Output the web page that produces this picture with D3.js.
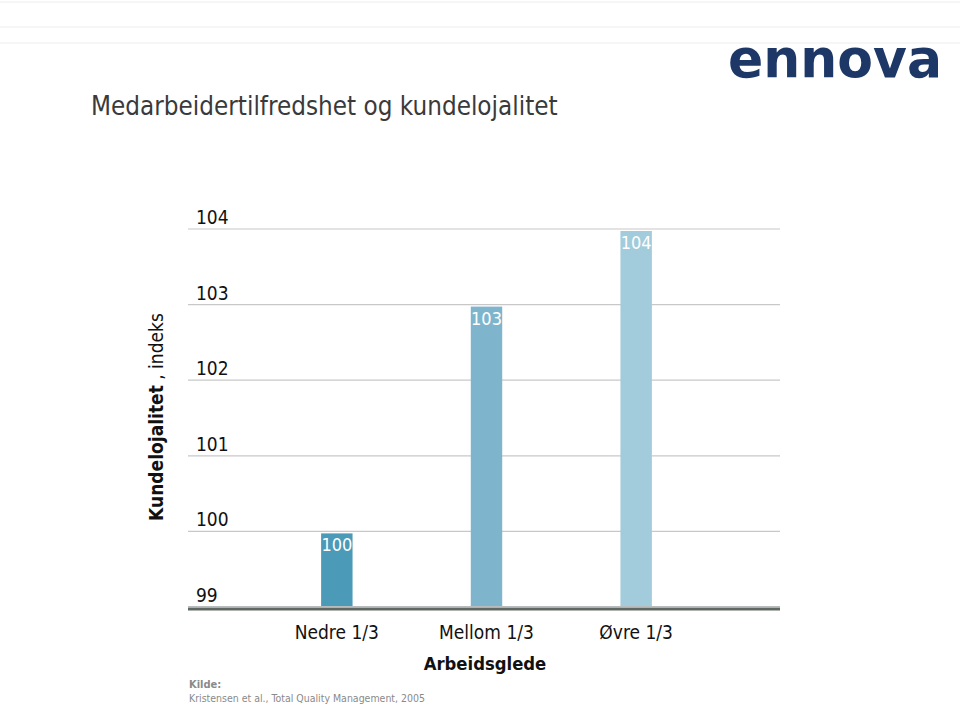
<!DOCTYPE html>
<html><head><meta charset="utf-8">
<script src="https://cdn.jsdelivr.net/npm/d3@7"></script>
<style>body{margin:0;background:#fff}svg{display:block}</style>
</head><body>
<svg id="c" width="960" height="705"></svg>
<script>
const categories = ["Nedre 1/3", "Mellom 1/3", "Øvre 1/3"];
const values = [100, 103, 104];
const barColors = ["#4a9ab8", "#7fb5cc", "#a2cbdb"];
const yTicks = [99, 100, 101, 102, 103, 104];
const title = "Medarbeidertilfredshet og kundelojalitet";
const xTitle = "Arbeidsglede";
const sourceLines = ["Kilde:", "Kristensen et al., Total Quality Management, 2005"];

const FONT = "'DejaVu Sans Condensed','DejaVu Sans',sans-serif";
const svg = d3.select("#c");

// faint background lines at top
[2, 27, 43].forEach(yy => svg.append("line").attr("x1", 0).attr("x2", 960).attr("y1", yy).attr("y2", yy)
  .attr("stroke", "#f3f3f3").attr("stroke-width", 1.5));

const y = d3.scaleLinear().domain([99, 104]).range([607, 229]);
const x = d3.scaleBand().domain(categories).range([262, 711]).paddingInner(0.79).paddingOuter(0.395);

// gridlines
svg.append("g").selectAll("line").data(yTicks.filter(d => d !== 99)).join("line")
  .attr("x1", 188).attr("x2", 780).attr("y1", d => y(d)).attr("y2", d => y(d))
  .attr("stroke", "#c8c8c8").attr("stroke-width", 1.2);

// tick labels
svg.append("g").selectAll("text").data(yTicks).join("text")
  .attr("x", 196).attr("y", d => y(d) - 5)
  .attr("font-family", FONT).attr("font-size", 19).attr("fill", "#111")
  .text(d => d);

// bars
svg.append("g").selectAll("rect").data(values).join("rect")
  .attr("x", (d, i) => x(categories[i])).attr("width", x.bandwidth())
  .attr("y", d => y(d) + 2).attr("height", d => y(99) - y(d) - 2)
  .attr("fill", (d, i) => barColors[i]);

// value labels
svg.append("g").selectAll("text").data(values).join("text")
  .attr("x", (d, i) => x(categories[i]) + x.bandwidth() / 2).attr("y", d => y(d) + 20)
  .attr("text-anchor", "middle").attr("font-family", FONT).attr("font-size", 18).attr("fill", "#fff")
  .text(d => d);

// baseline (double)
svg.append("line").attr("x1", 188).attr("x2", 780).attr("y1", y(99) - 0.5).attr("y2", y(99) - 0.5)
  .attr("stroke", "#b8bcbc").attr("stroke-width", 1);
svg.append("line").attr("x1", 188).attr("x2", 780).attr("y1", y(99) + 2).attr("y2", y(99) + 2)
  .attr("stroke", "#5f6862").attr("stroke-width", 3);

// category labels
svg.append("g").selectAll("text").data(categories).join("text")
  .attr("x", d => x(d) + x.bandwidth() / 2).attr("y", 639)
  .attr("text-anchor", "middle").attr("font-family", FONT).attr("font-size", 19).attr("fill", "#111")
  .text(d => d);

// x title
svg.append("text").attr("x", 485).attr("y", 670).attr("text-anchor", "middle")
  .attr("font-family", FONT).attr("font-weight", "bold").attr("font-size", 18.3).attr("fill", "#111")
  .text(xTitle);

// y title
const yt = svg.append("text").attr("transform", "translate(163,417) rotate(-90)")
  .attr("text-anchor", "middle").attr("font-family", FONT).attr("font-size", 19).attr("fill", "#111");
yt.append("tspan").attr("font-weight", "bold").text("Kundelojalitet");
yt.append("tspan").text(" , indeks");

// title
svg.append("text").attr("x", 91).attr("y", 115).attr("font-family", FONT).attr("font-size", 25.8)
  .attr("fill", "#3a3a3a").text(title);

// source
svg.append("text").attr("x", 189).attr("y", 688).attr("font-family", FONT).attr("font-size", 11)
  .attr("font-weight", "bold").attr("fill", "#8a8a8a").text(sourceLines[0]);
svg.append("text").attr("x", 189).attr("y", 702).attr("font-family", FONT).attr("font-size", 11)
  .attr("fill", "#8a8a8a").attr("textLength", 236).attr("lengthAdjust", "spacingAndGlyphs").text(sourceLines[1]);

// logo
svg.append("text").attr("x", 728).attr("y", 77).attr("font-family", "'DejaVu Sans',sans-serif")
  .attr("font-weight", "bold").attr("font-size", 54).attr("fill", "#1d3766")
  .attr("textLength", 214).attr("lengthAdjust", "spacingAndGlyphs").text("ennova");
</script>
</body></html>
